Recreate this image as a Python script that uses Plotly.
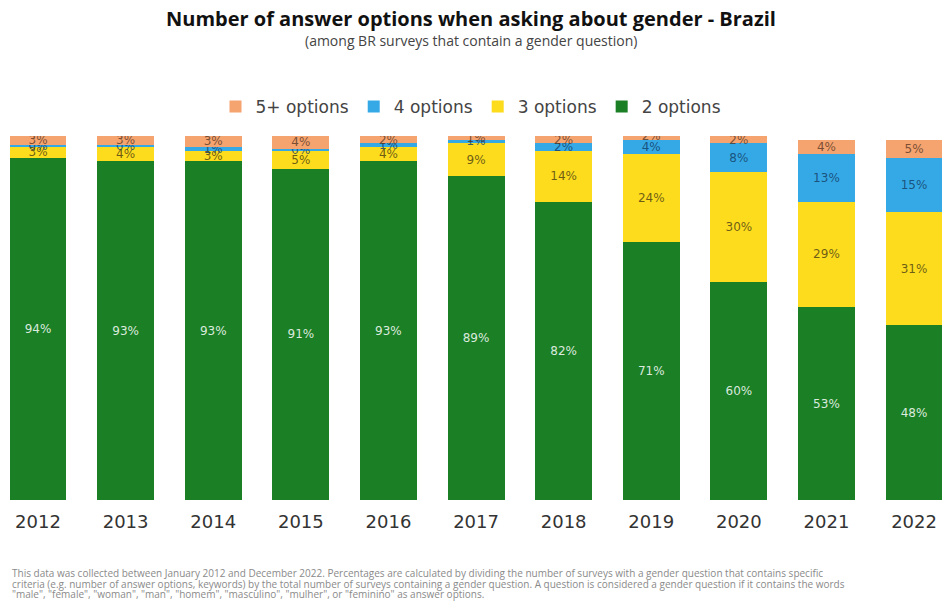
import plotly.graph_objects as go

years = ["2012", "2013", "2014", "2015", "2016", "2017", "2018", "2019", "2020", "2021", "2022"]
opt2 = [94, 93, 93, 91, 93, 89, 82, 71, 60, 53, 48]
opt3 = [3, 4, 3, 5, 4, 9, 14, 24, 30, 29, 31]
opt4 = [0.4, 0.4, 1, 0.4, 1, 1, 2, 4, 8, 13, 15]
opt5 = [3, 3, 3, 4, 2, 1, 2, 2, 2, 4, 5]

footnote_lines = [
    "This data was collected between January 2012 and December 2022. Percentages are calculated by dividing the number of surveys with a gender question that contains specific",
    "criteria (e.g. number of answer options, keywords) by the total number of surveys containing a gender question. A question is considered a gender question if it contains the words",
    "\"male\", \"female\", \"woman\", \"man\", \"homem\", \"masculino\", \"mulher\", or \"feminino\" as answer options.",
]

series = [
    ("2 options", opt2, "#1a7f25", "rgba(255,255,255,0.85)"),
    ("3 options", opt3, "#fcdc1c", "rgba(60,50,20,0.75)"),
    ("4 options", opt4, "#35a9e6", "rgba(20,60,100,0.8)"),
    ("5+ options", opt5, "#f5a36f", "rgba(80,50,30,0.75)"),
]

fig = go.Figure()
for name, vals, color, tcol in series:
    fig.add_trace(go.Bar(
        x=years, y=vals, name=name,
        marker=dict(color=color, line=dict(width=0)),
        text=[f"{round(v)}%" for v in vals],
        textposition="inside", insidetextanchor="middle",
        textfont=dict(family="DejaVu Sans", size=12, color=tcol),
        textangle=0,
    ))

fig.update_layout(
    barmode="stack",
    bargap=0.35,
    width=942, height=604,
    margin=dict(l=0, r=0, t=136, b=104),
    paper_bgcolor="white", plot_bgcolor="white",
    uniformtext=dict(minsize=12, mode="show"),
    xaxis=dict(range=[-0.434, 10.319], showgrid=False, showline=False, zeroline=False,
               tickfont=dict(family="DejaVu Sans", size=18, color="#333333"),
               ticks="", ticklabelstandoff=9),
    yaxis=dict(range=[0, 100], visible=False),
    showlegend=True,
    legend=dict(orientation="h", traceorder="reversed", x=0.5, xanchor="center",
                y=1.08, yanchor="middle",
                font=dict(family="DejaVu Sans", size=17, color="#444444"),
                itemwidth=30, itemsizing="constant"),
)

plot_h = 604 - 136 - 104
def py(pix):
    return (500 - pix) / plot_h

fig.add_annotation(text="<b>Number of answer options when asking about gender - Brazil</b>",
                   x=0.5, xref="paper", xanchor="center", y=py(18), yref="paper", yanchor="middle",
                   showarrow=False, font=dict(family="Open Sans", size=20, color="#111111"))
fig.add_annotation(text="(among BR surveys that contain a gender question)",
                   x=0.5, xref="paper", xanchor="center", y=py(40), yref="paper", yanchor="middle",
                   showarrow=False, font=dict(family="Open Sans", size=14, color="#444444"))
for i, line in enumerate(footnote_lines):
    fig.add_annotation(
        text=line, x=0.0106, xref="paper", xanchor="left", y=py(573 + 10.5 * i), yref="paper",
        yanchor="middle", align="left", showarrow=False,
        font=dict(family="Open Sans", size=10, color="#8a8a8a"))

fig.write_html("out.html", config={"displayModeBar": False},
               post_script="document.body.style.margin='0';document.body.style.padding='0';")
